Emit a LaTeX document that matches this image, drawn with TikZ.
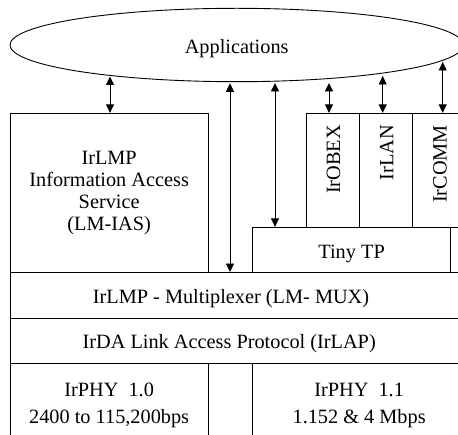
\documentclass[tikz,border=0pt]{standalone}
\usepackage{fontspec}
\setmainfont{Liberation Serif}
\usetikzlibrary{shapes.geometric,arrows.meta}
\begin{document}
\begin{tikzpicture}[x=1pt,y=-1pt,
  every node/.style={font=\fontsize{20.3}{22.2}\selectfont, inner sep=0pt, line width=0.9pt},
  box/.style={draw, rectangle},
  lbl/.style={text height=17pt, text depth=0pt},
  vbox/.style={draw, rectangle, rotate=90, minimum width=114pt, inner xsep=11.7pt, inner ysep=0pt,
               text width=90.6pt, align=right, text height=15pt, text depth=0pt},
  arr/.style={line width=0.9pt, {Triangle[length=8.5pt,width=8pt]}-{Triangle[length=8.5pt,width=8pt]}},
]
\useasboundingbox (0,0) rectangle (458,435);
\clip (0,0) rectangle (458,435);

% Applications
\node[draw, ellipse, minimum width=453.4pt, minimum height=73.4pt, lbl] (app) at (236.7,45) {Applications};

% LM-IAS
\node[box, minimum width=198.3pt, minimum height=159.2pt, align=center] (ias) at (109.15,192.9)
  {IrLMP\\Information Access\\Service\\(LM-IAS)};

% vertical protocol boxes
\node[vbox, minimum height=53.3pt] (obex) at (332.65,170.3) {IrOBEX};
\node[vbox, minimum height=53pt] (lan) at (385.8,170.3) {IrLAN};
\node[vbox, minimum height=53.7pt] (comm) at (439.15,170.3) {IrCOMM};

% Tiny TP
\node[box, lbl, minimum width=198.2pt, minimum height=45.2pt] (tinytp) at (351.6,249.9) {Tiny TP};

% Multiplexer and LAP bars
\node[box, minimum width=456pt, minimum height=45.5pt] (mux) at (238,295.25) {};
\node[anchor=base] (muxt) at (231,304) {IrLMP - Multiplexer (LM- MUX)};
\node[box, minimum width=456pt, minimum height=45.3pt] (lap) at (238,340.65) {};
\node[anchor=base] (lapt) at (229.2,349) {IrDA Link Access Protocol (IrLAP)};

% Physical layers
\node[box, minimum width=198.3pt, minimum height=84.2pt, align=center,
      font=\fontsize{20.3}{26.6}\selectfont] (phy10) at (109.15,405.4)
  {IrPHY\ \ 1.0\\2400 to 115,200bps};
\node[box, minimum width=44pt, minimum height=84.2pt] (gap) at (230.3,405.4) {};
\node[box, minimum width=213.7pt, minimum height=84.2pt, align=center,
      font=\fontsize{20.3}{26.6}\selectfont] (phy11) at (359.15,405.4)
  {IrPHY\ \ 1.1\\1.152 \& 4 Mbps};

% arrow ends on the Applications ellipse
\coordinate (a1) at (110,76.5);
\coordinate (a2) at (230,83.3);
\coordinate (a3) at (275,83);
\coordinate (a4) at (329,83);
\coordinate (a5) at (382.7,76);
\coordinate (a6) at (442.7,62);

\draw[arr] (a1) -- (ias.north -| a1);
\draw[arr] (a2) -- (mux.north -| a2);
\draw[arr] (a3) -- (tinytp.north -| a3);
\draw[arr] (a4) -- (obex.east -| a4);
\draw[arr] (a5) -- (lan.east -| a5);
\draw[arr] (a6) -- (comm.east -| a6);
\end{tikzpicture}
\end{document}
